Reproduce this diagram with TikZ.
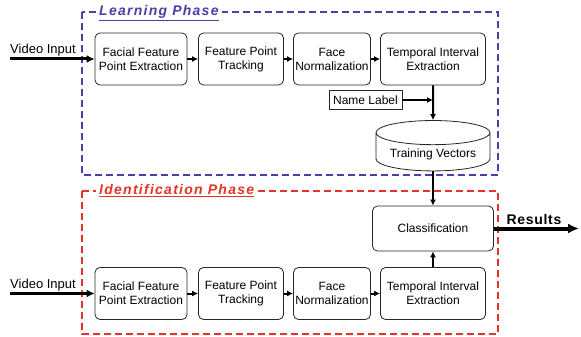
\documentclass[tikz,border=0pt]{standalone}
\usepackage{fontspec}
\setmainfont{Liberation Sans}
\newfontfamily\titlefont{Liberation Sans}[LetterSpace=9]
\newfontfamily\resfont{Liberation Sans}[LetterSpace=5]
\usetikzlibrary{shapes.geometric, arrows.meta}
\definecolor{learnblue}{RGB}{76,62,166}
\definecolor{identred}{RGB}{226,52,40}
\tikzstyle{block} = [rectangle, rounded corners=5pt, minimum height=52pt, inner sep=1pt, align=center, line width=0.8pt, draw=black!85, fill=white, font=\fontsize{12}{14}\selectfont]
\tikzstyle{plain} = [rectangle, minimum height=19pt, inner sep=1pt, line width=0.8pt, draw=black!85, fill=white, font=\fontsize{12}{14}\selectfont]
\tikzstyle{db} = [cylinder, shape border rotate=90, aspect=0.26, minimum width=114pt, minimum height=49pt, line width=0.8pt, draw=black!85, fill=white, font=\fontsize{12}{14}\selectfont]
\tikzstyle{frame} = [line width=2pt, dash pattern=on 7pt off 4pt]
\tikzstyle{ptitle} = [anchor=base west, fill=white, inner xsep=3pt, inner ysep=1pt, font=\fontsize{14}{16}\selectfont\titlefont\bfseries\itshape]
\tikzstyle{arrow} = [-{Latex[length=6pt,width=6pt]}, line width=2pt]
\tikzstyle{inarrow} = [-{Latex[length=8pt,width=8pt]}, line width=3pt]
\tikzstyle{outarrow} = [-{Latex[length=11pt,width=10pt]}, line width=4pt]

\begin{document}
\begin{tikzpicture}[x=1pt, y=-1pt, node distance=100pt]
\useasboundingbox (0,0) rectangle (581,337);
%两个阶段的虚线框
\draw [frame, learnblue] (82,12) rectangle (498,175);
\draw [frame, identred] (82,191) rectangle (498,334);
\node (ltitle) [ptitle, text=learnblue] at (96,15.5) {\underline{Learning Phase}};
\node (ititle) [ptitle, text=identred] at (96,194.5) {\underline{Identification Phase}};

%学习阶段
\node (ext1) [block, minimum width=92pt] at (141,59) {Facial Feature\\Point Extraction};
\node (trk1) [block, minimum width=85pt, right of=ext1] {Feature Point\\Tracking};
\node (norm1) [block, minimum width=77pt, right of=trk1, xshift=-9pt] {Face\\Normalization};
\node (tmp1) [block, minimum width=105pt, right of=norm1, xshift=1pt] {Temporal Interval\\Extraction};
\node (label) [plain, minimum width=73pt] at (365.5,100) {Name Label};
\node (train) [db] at (433,154) {Training Vectors};

%识别阶段
\node (ext2) [block, minimum width=92pt] at (141,293.5) {Facial Feature\\Point Extraction};
\node (trk2) [block, minimum width=85pt, right of=ext2] {Feature Point\\Tracking};
\node (norm2) [block, minimum width=77pt, right of=trk2, xshift=-9pt] {Face\\Normalization};
\node (tmp2) [block, minimum width=105pt, right of=norm2, xshift=1pt] {Temporal Interval\\Extraction};
\node (cls) [block, minimum width=121pt, minimum height=45pt] at (433,228.5) {Classification};

\coordinate (vin1) at (10,59);
\coordinate (vin2) at (10,293.5);
\coordinate (res) at (579,228.5);

%连接
\draw [inarrow] (vin1) -- node (vlabel1) [above, pos=0.39, inner sep=1pt, font=\fontsize{13}{15}\selectfont] {Video Input} (ext1);
\draw [arrow] (ext1) -- (trk1);
\draw [arrow] (trk1) -- (norm1);
\draw [arrow] (norm1) -- (tmp1);
\draw [arrow] (tmp1) -- (train);
\draw [arrow] (label.east) -- (label.east -| tmp1.south);

\draw [inarrow] (vin2) -- node (vlabel2) [above, pos=0.39, inner sep=1pt, font=\fontsize{13}{15}\selectfont] {Video Input} (ext2);
\draw [arrow] (ext2) -- (trk2);
\draw [arrow] (trk2) -- (norm2);
\draw [arrow] (norm2) -- (tmp2);
\draw [arrow] (tmp2) -- (cls);
\draw [arrow] (train) -- (cls);
\draw [outarrow] (cls) -- node (rlabel) [above, pos=0.47, inner sep=2pt, font=\fontsize{14}{16}\selectfont\resfont\bfseries] {Results} (res);
\end{tikzpicture}
\end{document}
